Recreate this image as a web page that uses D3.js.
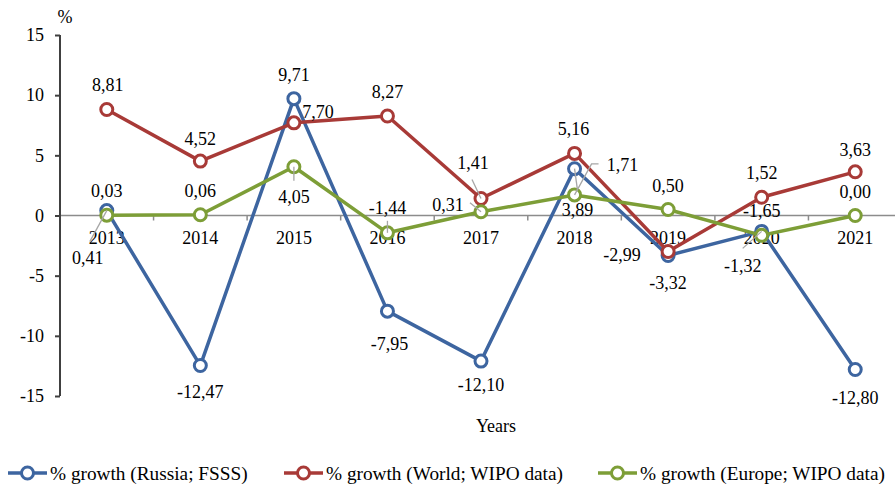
<!DOCTYPE html>
<html lang="en">
<head>
<meta charset="UTF-8">
<title>% growth</title>
<script src="https://d3js.org/d3.v7.min.js"></script>
</head>
<body style="margin:0;padding:0;background:#fff">
<script>
var years = ["2013","2014","2015","2016","2017","2018","2019","2020","2021"];
var russia = [0.41, -12.47, 9.71, -7.95, -12.10, 3.89, -3.32, -1.32, -12.80];
var world = [8.81, 4.52, 7.70, 8.27, 1.41, 5.16, -2.99, 1.52, 3.63];
var europe = [0.03, 0.06, 4.05, -1.44, 0.31, 1.71, 0.50, -1.65, 0.00];
var yTicks = [-15, -10, -5, 0, 5, 10, 15];
var names = ["% growth (Russia; FSSS)", "% growth (World; WIPO data)", "% growth (Europe; WIPO data)"];
var colors = ["#3d65a0", "#a83a37", "#7d9e37"];

// label placement: [dx, dy] from point to text centre, plus optional leader offsets
var labelPos = [
  [[-19,47,[[-17,31]]], [0,26], [0,-24], [2,33], [0,24], [3,41,[[3,22]]], [0,28], [-19,35,[[-19,17]]], [0,28]],
  [[1,-24], [0,-22], [24,-11], [0,-24], [-8,-36,[[-9,-19]]], [-1,-24], [-46,4], [0,-24], [0,-22]],
  [[0,-24], [0,-24], [0,30,[[0,14]]], [0,-25,[[0,-12]]], [-33,-7,[[-11,-9]]], [48,-30,[[17,-31],[24,-31]]], [0,-23], [0,-24], [0,-24]]
];

var FONT = "'Liberation Serif'";
var W = 895, H = 484;
var svg = d3.select("body").append("svg").attr("width", W).attr("height", H)
  .style("font-family", FONT).style("font-size", "18px");

var x = d3.scaleBand().domain(years).range([60, 902]);
var y = d3.scaleLinear().domain([-15, 15]).range([396, 35]);
var cx = function(d) { return x(d) + x.bandwidth() / 2; };
var fmt = function(v) { return v.toFixed(2).replace(".", ","); };

// zero line + category ticks
svg.append("line").attr("x1", 60).attr("x2", 895).attr("y1", y(0)).attr("y2", y(0))
  .attr("stroke", "#8c8c8c").attr("stroke-width", 1.5);
svg.selectAll(".xt").data(years.slice(1)).enter().append("line")
  .attr("x1", function(d) { return x(d); }).attr("x2", function(d) { return x(d); })
  .attr("y1", y(0)).attr("y2", y(0) + 5).attr("stroke", "#8c8c8c").attr("stroke-width", 1.5);

var xAxis = svg.append("g").attr("transform", "translate(0," + y(0) + ")")
  .call(d3.axisBottom(x).tickSize(0).tickPadding(16));
xAxis.attr("font-family", null).attr("font-size", null);
xAxis.select(".domain").remove();
xAxis.selectAll("text").attr("fill", "#000").style("font-family", FONT).style("font-size", "18px");

var yAxis = svg.append("g").attr("transform", "translate(60,0)")
  .call(d3.axisLeft(y).tickValues(yTicks).tickSize(5).tickPadding(11).tickFormat(function(d) { return String(d); }));
yAxis.attr("font-family", null).attr("font-size", null);
yAxis.select(".domain").attr("stroke", "#404040").attr("stroke-width", 2).attr("d", "M0," + y(15) + "V" + y(-15));
yAxis.selectAll(".tick line").attr("stroke", "#404040").attr("stroke-width", 2);
yAxis.selectAll("text").attr("fill", "#000").style("font-family", FONT).style("font-size", "18px");

svg.append("text").attr("x", 65).attr("y", 23).attr("text-anchor", "middle").text("%");
svg.append("text").attr("x", 496).attr("y", 432).attr("text-anchor", "middle").text("Years");

var series = [russia, world, europe];
var line = d3.line().x(function(d, i) { return cx(years[i]); }).y(function(d) { return y(d); });

series.forEach(function(vals, s) {
  svg.append("path").datum(vals).attr("fill", "none").attr("stroke-width", 3.5)
    .attr("stroke-linejoin", "round").attr("stroke", colors[s]).attr("d", line);
  svg.selectAll(".pt" + s).data(vals).enter().append("circle")
    .attr("cx", function(d, i) { return cx(years[i]); }).attr("cy", function(d) { return y(d); })
    .attr("r", 6).attr("fill", "#fff").attr("stroke", colors[s]).attr("stroke-width", 3);
});

// data labels and leader lines
series.forEach(function(vals, s) {
  vals.forEach(function(v, i) {
    var px = cx(years[i]), py = y(v), p = labelPos[s][i];
    if (p[2]) {
      var pts = [[px, py]].concat(p[2].map(function(o) { return [px + o[0], py + o[1]]; }));
      svg.append("path").attr("fill", "none").attr("stroke", "#a6a6a6").attr("stroke-width", 1.3)
        .attr("d", d3.line()(pts));
    }
    svg.append("text").attr("x", px + p[0]).attr("y", py + p[1])
      .attr("text-anchor", "middle").attr("dominant-baseline", "central").text(fmt(v));
  });
});

// legend
var legX = [8, 284, 598];
names.forEach(function(n, s) {
  var g = svg.append("g").attr("transform", "translate(" + legX[s] + ",473)");
  g.append("line").attr("x1", 0).attr("x2", 39).attr("stroke", colors[s]).attr("stroke-width", 3.5);
  g.append("circle").attr("cx", 19.5).attr("r", 6).attr("fill", "#fff").attr("stroke", colors[s]).attr("stroke-width", 3);
  g.append("text").attr("x", 42).attr("dominant-baseline", "central").style("font-size", "19.3px").text(n);
});
</script>
</body>
</html>
